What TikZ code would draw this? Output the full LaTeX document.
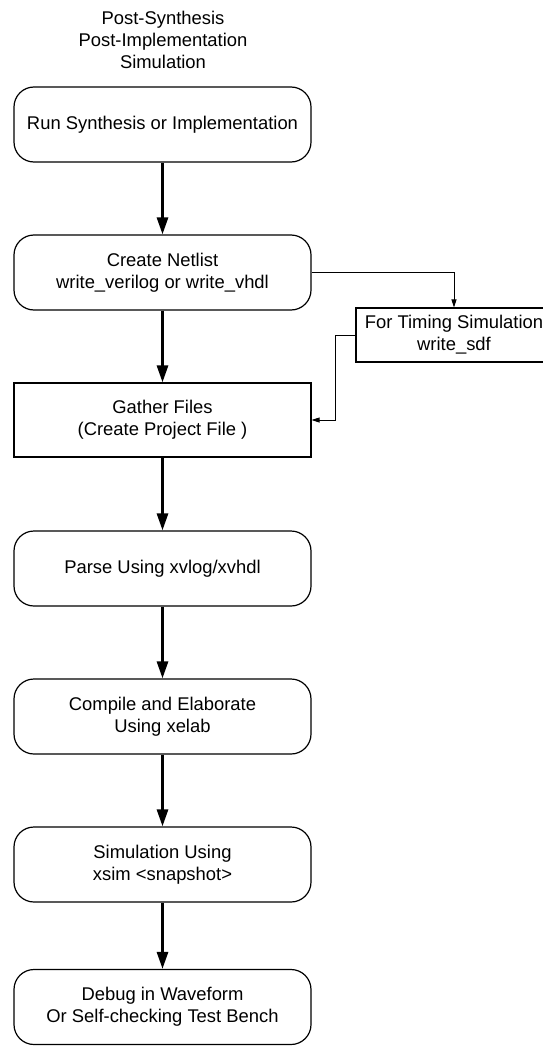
\documentclass[tikz,border=0pt]{standalone}
\usepackage{fontspec}
\setmainfont{Liberation Sans}
\usetikzlibrary{arrows.meta}
\begin{document}
\begin{tikzpicture}[x=1pt,y=-1pt,
  every node/.style={font=\fontsize{18.4}{22}\selectfont, align=center, inner sep=0pt},
  rbox/.style={draw, line width=1.2pt, rounded corners=20pt, minimum width=297pt, minimum height=75pt},
  sbox/.style={draw, line width=1.2pt, minimum width=297pt, minimum height=74pt},
  tbox/.style={draw, line width=1.1pt, minimum width=196pt, minimum height=54pt},
  bold/.style={line width=2.8pt, -{Triangle[length=17pt,width=11pt]}},
  thin/.style={line width=0.8pt, -{Triangle[length=8pt,width=5pt]}}]
\useasboundingbox (0,0) rectangle (543,1046);
\clip (0,0) rectangle (543,1046);
\node (title) at (163,40) {Post-Synthesis\\Post-Implementation\\Simulation};
\node[rbox] (run) at (162.5,124.5) {Run Synthesis or Implementation};
\node[rbox] (net) at (162.5,272.5) {Create Netlist\\write\_verilog or write\_vhdl};
\node[tbox] (tim) at (454,335) {For Timing Simulation\\write\_sdf};
\node[sbox] (gat) at (162.5,420) {Gather Files\\(Create Project File )};
\node[rbox] (par) at (162.5,568.5) {Parse Using xvlog/xvhdl};
\node[rbox] (com) at (162.5,716.5) {Compile and Elaborate\\Using xelab};
\node[rbox] (sim) at (162.5,864.5) {Simulation Using\\xsim <snapshot>};
\node[rbox] (dbg) at (162.5,1007) {Debug in Waveform\\Or Self-checking Test Bench};
\coordinate (c1) at (335,420);
\draw[bold] (run.south) -- (net.north);
\draw[bold] (net.south) -- (gat.north);
\draw[bold] (gat.south) -- (par.north);
\draw[bold] (par.south) -- (com.north);
\draw[bold] (com.south) -- (sim.north);
\draw[bold] (sim.south) -- (dbg.north);
\draw[thin] (net.east) -| (tim.north);
\draw[thin] (tim.west) -| (c1) -- (gat.east);
\end{tikzpicture}
\end{document}
